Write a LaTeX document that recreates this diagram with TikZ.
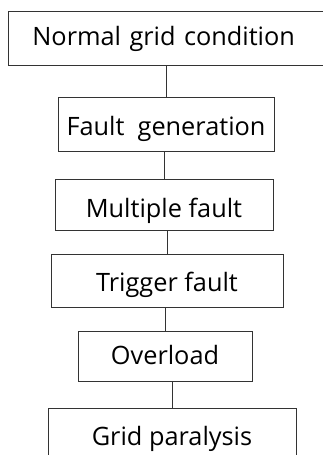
\documentclass[tikz,border=0pt]{standalone}
\usepackage{fontspec}
\setmainfont{Open Sans}
\begin{document}
\begin{tikzpicture}[x=1pt,y=1pt,
	box/.style={draw=black!80,line width=0.8pt,rectangle,inner sep=0pt,
		font=\fontsize{25.3}{29}\selectfont,text depth=0pt},
	link/.style={draw=black!80,line width=0.8pt}]
\clip (0,0) rectangle (323,-455);
% top box runs off the right edge
\node[box,anchor=west,minimum height=54pt,text height=15.1pt,
	text width=330pt,align=left,inner xsep=24pt] (b1) at (8,-38) {Normal grid condition};
\foreach \name/\x/\y/\w/\h/\th/\txt in {
	b2/166/124/216/54/23.1/Fault\ \ generation,
	b3/164/204.5/218/51/25.1/Multiple fault,
	b4/167/280.5/232/53/21.1/Trigger fault,
	b5/165/356/174/50/17.1/Overload,
	b6/172/438/248/60/14.1/Grid paralysis} {
	\node[box,minimum width=\w pt,minimum height=\h pt,text height=\th pt] (\name) at (\x,-\y) {\txt};
}
\foreach \a/\b in {b1/b2,b2/b3,b3/b4,b4/b5,b5/b6}
	\draw[link] (\b.north) -- (\b.north |- \a.south);
\end{tikzpicture}
\end{document}
